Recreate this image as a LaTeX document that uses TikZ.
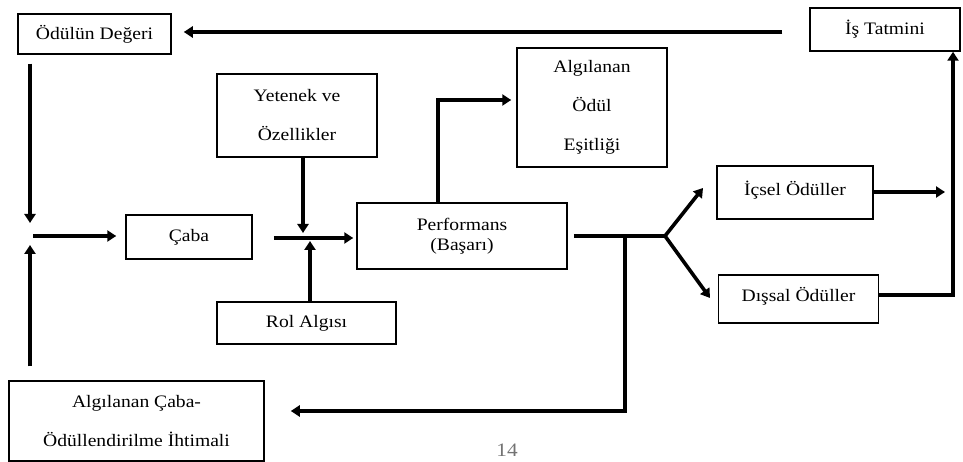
\documentclass[tikz,border=0pt]{standalone}
\usepackage{fontspec}
\setmainfont{Liberation Serif}[FakeStretch=1.12]
\usetikzlibrary{arrows.meta}

\begin{document}
\begin{tikzpicture}[x=1pt,y=-1pt,
  box/.style={draw, line width=1.5pt, inner sep=0pt, align=center,
    font=\fontsize{17.5}{20}\selectfont},
  tallbox/.style={box, font=\fontsize{17.5}{39}\selectfont},
  ln/.style={line width=3.6pt},
  arr/.style={ln, -{Triangle[length=9pt,width=11pt]}}]

\useasboundingbox (0,0) rectangle (963,462);

% boxes
\node[box, minimum width=153pt, minimum height=40pt] (deger) at (94.5,34) {Ödülün Değeri};
\node[box, minimum width=150pt, minimum height=43pt] (tatmin) at (885,29.5) {İş Tatmini};
\node[tallbox, minimum width=160pt, minimum height=83pt] (yetenek) at (297,115.5) {Yetenek ve\\Özellikler};
\node[tallbox, minimum width=150pt, minimum height=119pt] (esitlik) at (592,107.5) {Algılanan\\Ödül\\Eşitliği};
\node[box, minimum width=126pt, minimum height=44pt] (caba) at (189,237) {Çaba};
\node[box, minimum width=210pt, minimum height=66pt] (perf) at (462,236) {Performans\\(Başarı)};
\node[box, minimum width=179pt, minimum height=42pt] (rol) at (306.5,323) {Rol Algısı};
\node[box, minimum width=156pt, minimum height=53pt, text depth=9pt] (icsel) at (795,192.5) {İçsel Ödüller};
\node[box, minimum width=160pt, minimum height=48pt, text depth=9pt] (dissal) at (798.5,299) {Dışsal Ödüller};
\node[tallbox, minimum width=255pt, minimum height=80pt] (ihtimal) at (136.5,421) {Algılanan Çaba-\\Ödüllendirilme İhtimali};

% page number
\node[text=black!55, font=\fontsize{19}{20}\selectfont] (sayfa) at (507,450) {14};

% junction and bend coordinates
\coordinate (jLtop) at (30,223);
\coordinate (jLbot) at (30,245);
\coordinate (jLright) at (33,236);
\coordinate (jM) at (306,238);
\coordinate (jMtop) at (303,233);
\coordinate (jMbot) at (310,241);
\coordinate (e1) at (438,100);
\coordinate (br) at (665,236);
\coordinate (tI) at (703,188);
\coordinate (tD) at (710,298);
\coordinate (jR) at (625,236);
\coordinate (k) at (625,411);
\coordinate (tR) at (945,192);
\coordinate (c) at (953,295);
\coordinate (top) at (0,32);

% connectors
\draw[arr, shorten <=27pt, shorten >=12pt] (tatmin.west |- top) -- (deger.east |- top);
\draw[arr, shorten <=9pt] (deger.south -| jLtop) -- (jLtop);
\draw[arr, shorten <=14pt] (ihtimal.north -| jLbot) -- (jLbot);
\draw[arr, shorten >=9pt] (jLright) -- (caba.west |- jLright);
\draw[arr, shorten <=21pt, shorten >=3pt] (caba.east |- jM) -- (perf.west |- jM);
\draw[arr] (yetenek.south -| jMtop) -- (jMtop);
\draw[arr] (rol.north -| jMbot) -- (jMbot);
\draw[arr, shorten >=5pt] (perf.north -| e1) |- (esitlik.west |- e1);
\draw[ln, shorten <=6pt] (perf.east |- br) -- (br);
\draw[arr] (br) -- (tI);
\draw[arr] (br) -- (tD);
\draw[arr, shorten >=26pt] (jR) |- (ihtimal.east |- k);
\draw[arr] (icsel.east |- tR) -- (tR);
\draw[arr] (dissal.east |- c) -| (tatmin.south -| c);

\end{tikzpicture}
\end{document}
